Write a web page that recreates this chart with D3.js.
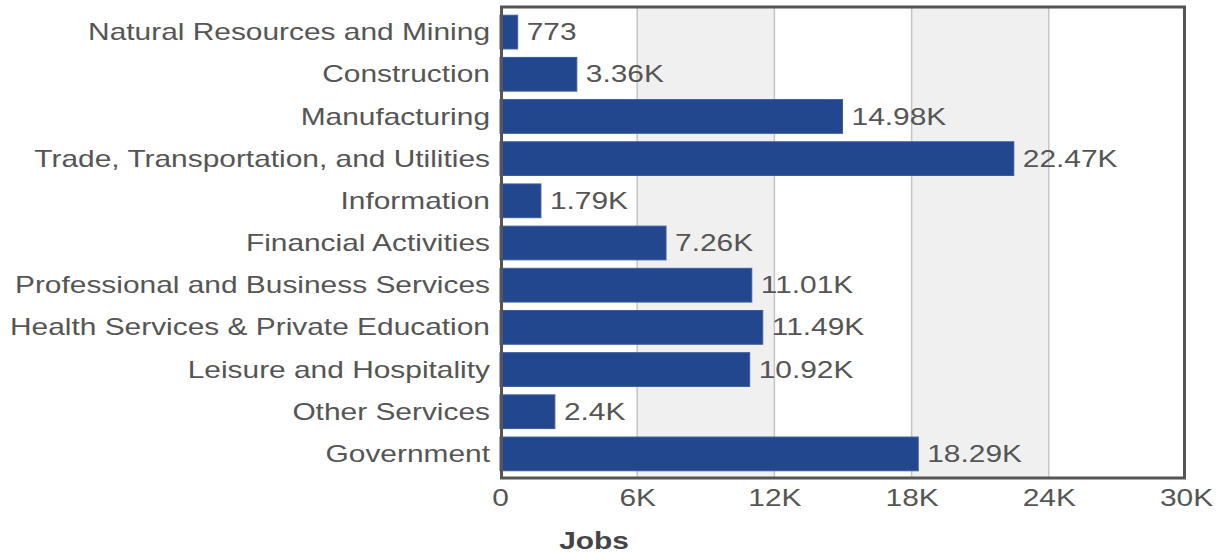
<!DOCTYPE html>
<html>
<head>
<meta charset="utf-8">
<script src="https://cdn.jsdelivr.net/npm/d3@7"></script>
<style>
  html, body { margin: 0; padding: 0; background: #fff; }
  svg { display: block; font-family: "Liberation Sans", Arial, sans-serif; }
</style>
</head>
<body>
<svg id="chart" width="1224" height="554"></svg>
<script>
const categories = [
  "Natural Resources and Mining",
  "Construction",
  "Manufacturing",
  "Trade, Transportation, and Utilities",
  "Information",
  "Financial Activities",
  "Professional and Business Services",
  "Health Services & Private Education",
  "Leisure and Hospitality",
  "Other Services",
  "Government"
];
const values = [773, 3360, 14980, 22470, 1790, 7260, 11010, 11490, 10920, 2400, 18290];
const valueLabels = ["773", "3.36K", "14.98K", "22.47K", "1.79K", "7.26K", "11.01K", "11.49K", "10.92K", "2.4K", "18.29K"];
const tickValues = [0, 6000, 12000, 18000, 24000, 30000];
const tickLabels = ["0", "6K", "12K", "18K", "24K", "30K"];
const axisTitle = "Jobs";

const SX = 1.3;           // horizontal stretch of glyphs in the reference
const fontSize = 23;
const textColor = "#555";
const barColor = "#22478f";

const svg = d3.select("#chart");
const plot = { left: 500, right: 1186, top: 7, bottom: 478 };

const x = d3.scaleLinear().domain([0, 30000]).range([plot.left, plot.right]);
const y = d3.scaleBand().domain(categories).range([plot.top + 4, plot.bottom - 3]).paddingInner(0.2).paddingOuter(0.1);

// alternating bands
const bands = [];
for (let i = 0; i < tickValues.length - 1; i++) bands.push([tickValues[i], tickValues[i + 1], i % 2 === 1]);
svg.append("g").selectAll("rect").data(bands.filter(b => b[2])).join("rect")
  .attr("x", d => x(d[0])).attr("width", d => x(d[1]) - x(d[0]))
  .attr("y", plot.top).attr("height", plot.bottom - plot.top)
  .attr("fill", "#f0f0f0");

// gridlines
svg.append("g").selectAll("line").data(tickValues.slice(1, -1)).join("line")
  .attr("x1", d => x(d)).attr("x2", d => x(d))
  .attr("y1", plot.top).attr("y2", plot.bottom)
  .attr("stroke", "#c4c4c4").attr("stroke-width", 1.5);

// bars
svg.append("g").selectAll("rect").data(values).join("rect")
  .attr("x", x(0)).attr("y", (d, i) => y(categories[i]))
  .attr("width", d => x(d) - x(0)).attr("height", y.bandwidth())
  .attr("fill", barColor).attr("stroke", "#3a5d9e").attr("stroke-width", 1);

// value labels
svg.append("g").selectAll("text").data(values).join("text")
  .attr("transform", (d, i) => `translate(${x(d) + 9},${y(categories[i]) + y.bandwidth() / 2}) scale(${SX},1)`)
  .attr("dy", "0.35em")
  .attr("font-size", fontSize).attr("fill", textColor)
  .text((d, i) => valueLabels[i]);

// frame
svg.append("rect")
  .attr("x", plot.left + 1.5).attr("y", plot.top)
  .attr("width", plot.right - plot.left - 3).attr("height", plot.bottom - plot.top)
  .attr("fill", "none").attr("stroke", "#555").attr("stroke-width", 3);

// y axis
const yAxis = svg.append("g").attr("transform", `translate(${plot.left},0)`)
  .call(d3.axisLeft(y).tickSize(0).tickPadding(0));
yAxis.select(".domain").remove();
yAxis.selectAll("text")
  .attr("x", 0).attr("dy", "0.35em")
  .attr("transform", `translate(-10,0) scale(${SX},1)`)
  .attr("font-size", fontSize).attr("fill", textColor)
  .attr("font-family", "Liberation Sans, Arial, sans-serif");

// x axis
const xAxis = svg.append("g").attr("transform", `translate(0,${plot.bottom})`)
  .call(d3.axisBottom(x).tickValues(tickValues).tickFormat((d, i) => tickLabels[i]).tickSize(0).tickPadding(0));
xAxis.select(".domain").remove();
xAxis.selectAll("text")
  .attr("y", 0).attr("dy", 0)
  .attr("transform", `translate(0,28) scale(${SX},1)`)
  .attr("font-size", fontSize).attr("fill", textColor)
  .attr("font-family", "Liberation Sans, Arial, sans-serif");

// axis title
svg.append("text")
  .attr("transform", `translate(594,549) scale(${SX},1)`)
  .attr("text-anchor", "middle")
  .attr("font-size", fontSize).attr("font-weight", "bold").attr("fill", "#444")
  .text(axisTitle);
</script>
</body>
</html>
